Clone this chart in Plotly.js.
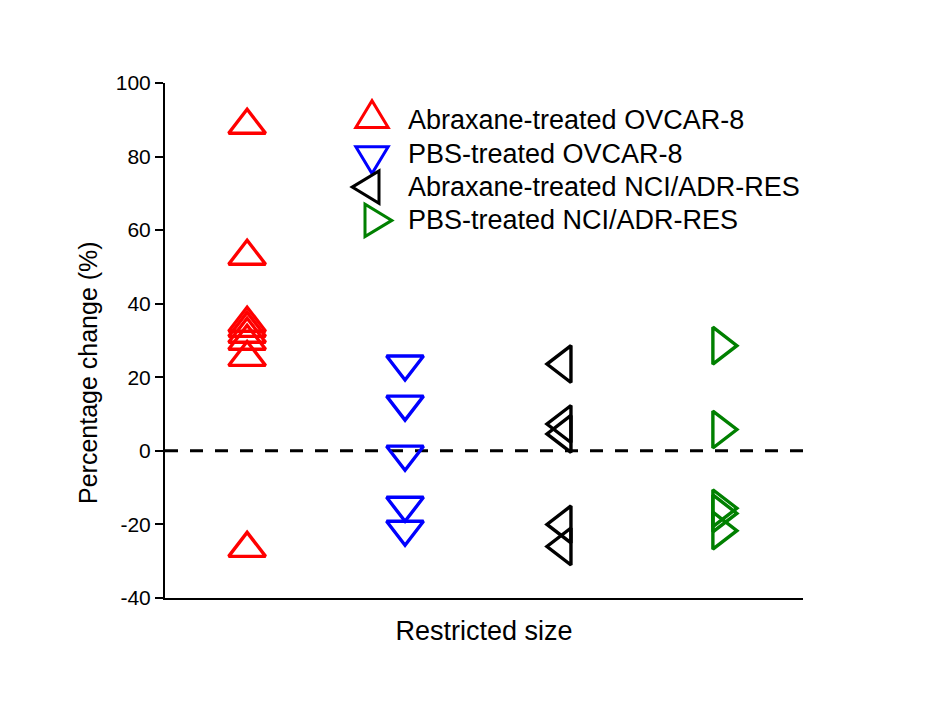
<!DOCTYPE html>
<html>
<head>
<meta charset="utf-8">
<script src="https://cdn.plot.ly/plotly-3.0.1.min.js"></script>
<style>html,body{margin:0;padding:0;background:#fff;}#chart{width:933px;height:719px;}</style>
</head>
<body>
<div id="chart"></div>
<script>
// ---- data ----
var seriesNames = ["Abraxane-treated OVCAR-8", "PBS-treated OVCAR-8", "Abraxane-treated NCI/ADR-RES", "PBS-treated NCI/ADR-RES"];
var groupPositions = [1, 2, 3, 4];
var abraxaneOvcar = [88.5, 52.9, 34.7, 33.3, 31.7, 29.8, 25.4, -26.5];
var pbsOvcar = [23.6, 12.7, -0.9, -14.8, -21.3];
var abraxaneNci = [23.6, 7.3, 4.6, -20.0, -26.0];
var pbsNci = [28.6, 5.8, -15.6, -17.0, -21.7];
var yTicks = [-40, -20, 0, 20, 40, 60, 80, 100];
var xTitle = "Restricted size";
var yTitle = "Percentage change (%)";

// ---- styles ----
var colors = ["#ff0000", "#0000ff", "#000000", "#008000"];
var symbols = ["triangle-up-open", "triangle-down-open", "triangle-left-open", "triangle-right-open"];
var FONT = "Liberation Sans, Arial, sans-serif";
var seriesValues = [abraxaneOvcar, pbsOvcar, abraxaneNci, pbsNci];

var traces = seriesValues.map(function (vals, i) {
  return {
    type: "scatter",
    mode: "markers",
    name: seriesNames[i],
    x: vals.map(function () { return groupPositions[i]; }),
    y: vals,
    marker: { symbol: symbols[i], size: 32, color: colors[i], line: { width: 3.4, color: colors[i] } },
    showlegend: false,
    cliponaxis: false,
    hoverinfo: "y"
  };
});

// plot geometry (pixels)
var L = 165, R = 130, T = 83, B = 121, W = 933, H = 719;
var plotW = W - L - R, plotH = H - T - B;
function px2paperX(px) { return (px - L) / plotW; }
function px2paperY(py) { return (H - B - py) / plotH; }

// custom legend: triangle symbol paths (Plotly marker geometry), y up in pixel shapes
function triPath(kind, r) {
  var rt = r * 2 / Math.sqrt(3), r2 = r / 2, rs = r * Math.SQRT2;
  if (kind === 0) return "M" + (-rt) + "," + (-r2) + " L" + rt + "," + (-r2) + " L0," + rs + " Z";
  if (kind === 1) return "M" + (-rt) + "," + r2 + " L" + rt + "," + r2 + " L0," + (-rs) + " Z";
  if (kind === 2) return "M" + r2 + "," + (-rt) + " L" + r2 + "," + rt + " L" + (-rs) + ",0 Z";
  return "M" + (-r2) + "," + (-rt) + " L" + (-r2) + "," + rt + " L" + rs + ",0 Z";
}

var shapes = [{
  type: "line", xref: "paper", yref: "y", x0: 0, x1: 1, y0: 0, y1: 0,
  line: { color: "#000", width: 3, dash: "13px,12px" }, layer: "below"
}];
var annotations = [];
var legendX = 372, legendTextX = 406, legendY0 = 120.5, legendStep = 33.3;
seriesNames.forEach(function (nm, i) {
  var yc = legendY0 + i * legendStep;
  shapes.push({
    type: "path", xref: "paper", yref: "paper",
    xsizemode: "pixel", ysizemode: "pixel",
    xanchor: px2paperX(legendX), yanchor: px2paperY(yc),
    path: triPath(i, 14),
    line: { color: colors[i], width: 3 }, fillcolor: "rgba(0,0,0,0)"
  });
  annotations.push({
    xref: "paper", yref: "paper", x: px2paperX(legendTextX), y: px2paperY(yc),
    xanchor: "left", yanchor: "middle", showarrow: false, text: nm,
    font: { family: FONT, size: 27, color: "#000" }
  });
});
// y-axis title (placed as in the reference, slightly below the axis centre)
annotations.push({
  xref: "paper", yref: "paper", x: px2paperX(88), y: px2paperY(373),
  xanchor: "center", yanchor: "middle", showarrow: false, textangle: -90,
  text: yTitle, font: { family: FONT, size: 25, color: "#000" }
});

var layout = {
  width: W, height: H,
  margin: { l: L, r: R, t: T, b: B },
  paper_bgcolor: "#fff", plot_bgcolor: "#fff",
  showlegend: false,
  font: { family: FONT, color: "#000" },
  xaxis: {
    range: [0.48, 4.52], showline: true, linecolor: "#000", linewidth: 2,
    showticklabels: false, ticks: "", showgrid: false, zeroline: false,
    title: { text: xTitle, font: { family: FONT, size: 27, color: "#000" }, standoff: 22 }
  },
  yaxis: {
    range: [-40, 100], tickvals: yTicks, ticktext: yTicks.map(String),
    showline: true, linecolor: "#000", linewidth: 2,
    ticks: "outside", ticklen: 8, tickwidth: 2, tickcolor: "#000",
    tickfont: { family: FONT, size: 21, color: "#000" },
    showgrid: false, zeroline: false
  },
  shapes: shapes,
  annotations: annotations
};

Plotly.newPlot("chart", traces, layout, { displayModeBar: false, staticPlot: true });
</script>
</body>
</html>
